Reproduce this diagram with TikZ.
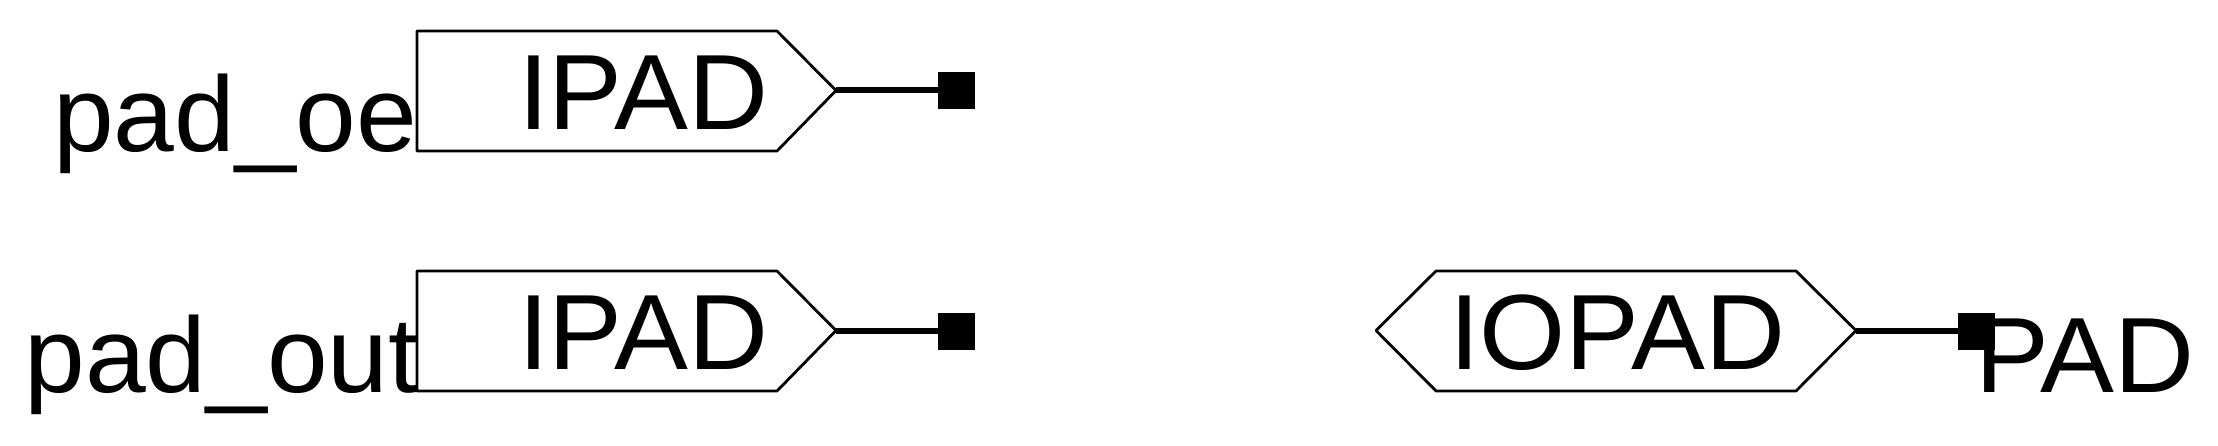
\documentclass[tikz,border=0pt]{standalone}
\usepackage{fontspec}
\setmainfont[FakeStretch=1.02]{Liberation Sans}
\newfontfamily\capsfont[FakeStretch=1.035]{Liberation Sans}
\tikzset{
  x=1pt,y=-1pt,
  padbox/.style={draw=black,line width=2.8pt,fill=none,line join=round},
  wire/.style={draw=black,line width=6pt},
  term/.style={fill=black,draw=none,minimum width=37pt,minimum height=37pt,inner sep=0pt,outer sep=0pt},
  lab/.style={font=\fontsize{107}{107}\selectfont,inner sep=0pt,outer sep=0pt,anchor=base west,text=black},
  caplab/.style={lab,font=\fontsize{107}{107}\capsfont}
}
\begin{document}
\begin{tikzpicture}
\useasboundingbox (0,0) rectangle (2218,446);
% IPAD 1
\draw[padbox] (417,31) -- (777,31) -- (836,90.5) -- (777,151) -- (417,151) -- cycle;
\coordinate (tipa) at (836,90.5);
\node[term] (ta) at (956.5,91) {};
\draw[wire] (tipa) -- (ta.west |- tipa);
\node[caplab] (ia) at (518,129.5) {IPAD};
\node[lab] (la) at (53,152) {pad\_oe};
% IPAD 2
\draw[padbox] (417,271) -- (777,271) -- (836,330.5) -- (777,391) -- (417,391) -- cycle;
\coordinate (tipb) at (836,330.5);
\node[term] (tb) at (956.5,331) {};
\draw[wire] (tipb) -- (tb.west |- tipb);
\node[caplab] (ib) at (518,369.5) {IPAD};
\node[lab] (lb) at (24.5,392) {pad\_out};
% IOPAD
\draw[padbox] (1376,330.5) -- (1436,271) -- (1796,271) -- (1856,330.5) -- (1796,391) -- (1436,391) -- cycle;
\coordinate (tipc) at (1856,330.5);
\node[term] (tc) at (1976,331) {};
\draw[wire] (tipc) -- (tc.west |- tipc);
\node[caplab] (ic) at (1449,369.5) {IOPAD};
\node[caplab] (lc) at (1975,392) {PAD};
\end{tikzpicture}
\end{document}
